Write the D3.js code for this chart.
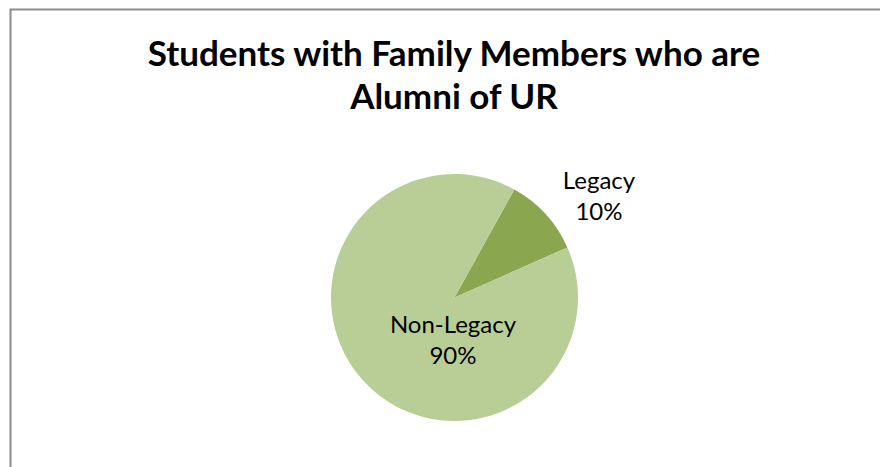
<!DOCTYPE html>
<html><head><meta charset="utf-8">
<script src="https://cdn.jsdelivr.net/npm/d3@7"></script>
<style>body{margin:0;background:#fff}svg{display:block}</style>
</head><body>
<svg id="c" width="880" height="467"></svg>
<script>
const titleLines = ["Students with Family Members who are", "Alumni of UR"];
const categories = ["Legacy", "Non-Legacy"];
const values = [10.3, 89.7];
const pctLabels = ["10%", "90%"];
const colors = ["#8AA64E", "#B9CE96"];

const svg = d3.select("#c");
const font = "Lato, 'Open Sans', sans-serif";

svg.append("path").attr("d", "M10.5,467 V9.5 H880")
  .attr("fill", "none").attr("stroke", "#8c8c8c").attr("stroke-width", 2);

svg.append("g").selectAll("text").data(titleLines).join("text")
  .attr("x", 454).attr("y", (d, i) => 66 + i * 43)
  .attr("text-anchor", "middle").attr("font-family", font)
  .attr("font-weight", "bold").attr("font-size", 35).attr("fill", "#000")
  .text(d => d);

const cx = 454.5, cy = 297.5, r = 123.5;
const offset = 29 * Math.PI / 180;
const pie = d3.pie().sort(null).startAngle(offset).endAngle(offset + 2 * Math.PI);
const arcs = pie(values);
const arc = d3.arc().innerRadius(0).outerRadius(r);
const g = svg.append("g").attr("transform", `translate(${cx},${cy})`);
g.selectAll("path").data(arcs).join("path")
  .attr("d", arc).attr("fill", (d, i) => colors[i]);

const labelPos = [[599, 189], [453, 333]];
const lg = svg.append("g");
categories.forEach((c, i) => {
  const t = lg.append("text").attr("x", labelPos[i][0]).attr("y", labelPos[i][1])
    .attr("text-anchor", "middle").attr("font-family", font)
    .attr("font-size", 24).attr("fill", "#000");
  t.append("tspan").attr("x", labelPos[i][0]).text(c);
  t.append("tspan").attr("x", labelPos[i][0]).attr("dy", 31).text(pctLabels[i]);
});
</script>
</body></html>
